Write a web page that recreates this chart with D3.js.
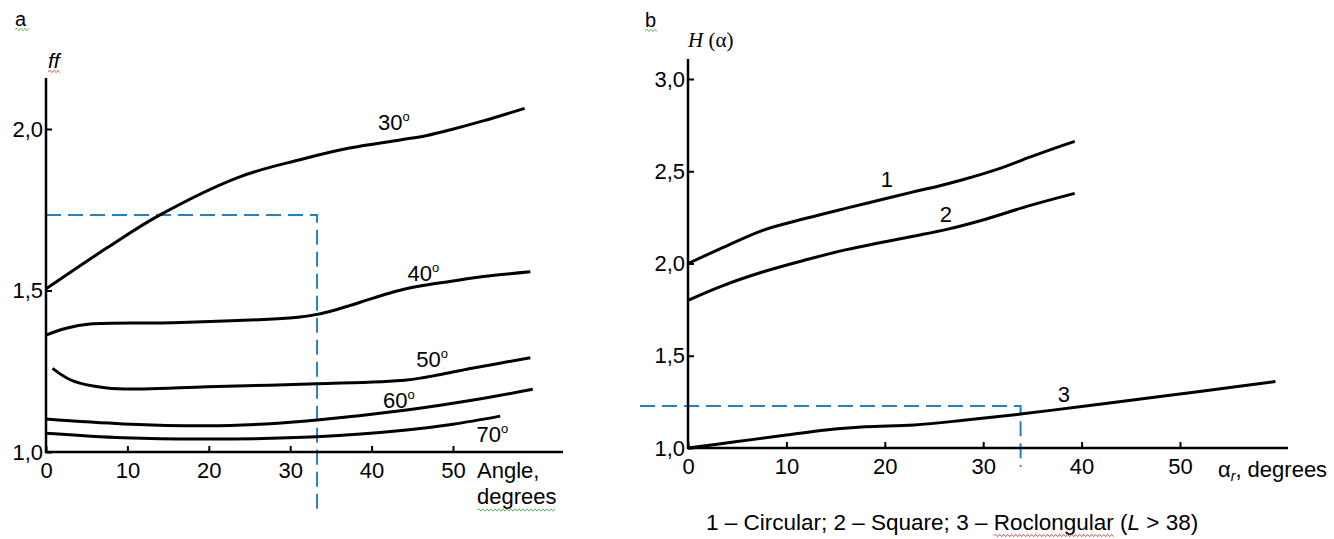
<!DOCTYPE html>
<html><head><meta charset="utf-8">
<script src="https://cdn.jsdelivr.net/npm/d3@7"></script>
<style>
body{margin:0;background:#fff}
svg{display:block}
text{font-family:"Liberation Sans",Arial,sans-serif;fill:#000}
</style>
</head><body>
<svg id="c" width="1334" height="539"></svg>
<script>
// ---------- data: panel a ----------
const ffTicksY = [1.0, 1.5, 2.0];
const ffTicksX = [0, 10, 20, 30, 40, 50];
const ffCurveNames = ["30", "40", "50", "60", "70"];
const ff30 = [[0,1.505],[7.5,1.632],[14,1.734],[23.8,1.852],[31.2,1.905],[37.3,1.941],[43.5,1.966],[46.8,1.98],[49.6,1.997],[53.7,2.025],[58.8,2.064]];
const ff40 = [[0,1.362],[2.5,1.383],[5.4,1.396],[15.6,1.40],[27.9,1.412],[31.2,1.418],[33.3,1.426],[35.3,1.438],[37.3,1.453],[39.4,1.47],[41.5,1.487],[43.5,1.501],[46.5,1.516],[49.6,1.528],[53.7,1.543],[59.5,1.558]];
const ff50 = [[0.8,1.259],[3.3,1.22],[7.5,1.198],[12,1.195],[19.8,1.202],[33.3,1.211],[44.3,1.223],[48.5,1.24],[52.5,1.26],[59.5,1.292]];
const ff60 = [[0,1.102],[9.5,1.087],[19.8,1.081],[27,1.087],[33.3,1.099],[44.3,1.13],[52.5,1.161],[59.8,1.194]];
const ff70 = [[0,1.058],[9.5,1.044],[19.8,1.04],[33.3,1.047],[44.3,1.068],[50,1.086],[55.8,1.111]];
const ffLabelAt = [[40.8,1.997],[44.4,1.529],[45.5,1.264],[41.4,1.136],[52.9,1.032]];
const ffRef = [33.3, 1.734];

// ---------- data: panel b ----------
const hTicksY = [1.0, 1.5, 2.0, 2.5, 3.0];
const hTicksX = [0, 10, 20, 30, 40, 50];
const hCurveNames = ["1", "2", "3"];
const h1 = [[0,2.0],[3.3,2.08],[7.6,2.18],[12,2.245],[16.1,2.30],[19.5,2.344],[22.9,2.388],[25.5,2.42],[28,2.455],[31.4,2.51],[34.8,2.578],[37,2.62],[39.3,2.662]];
const h2 = [[0,1.80],[3.3,1.875],[7.65,1.955],[12,2.02],[16.1,2.075],[19.5,2.112],[22.9,2.148],[26.3,2.185],[29.7,2.232],[34.8,2.315],[39.3,2.38]];
const h3 = [[0,1.0],[5,1.035],[10,1.07],[14,1.098],[18,1.115],[23,1.125],[28,1.15],[33.8,1.184],[40,1.225],[46,1.266],[52,1.306],[59.7,1.36]];
const hLabelAt = [[20.2,2.413],[26.2,2.223],[38.2,1.249]];
const hRef = [33.8, 1.228];
const legendParts = ["1 – Circular; 2 – Square; 3 – ", "Roclongular", " (", "L", " > 38)"];

// ---------- drawing ----------
const svg = d3.select("#c");
svg.append("rect").attr("width",1334).attr("height",539).attr("fill","#fff");
const fmt = d => d.toFixed(1).replace(".", ",");
const BLUE = "#2580cc";
const FS = 22;

function panel(o){
  const g = svg.append("g");
  const x = d3.scaleLinear().domain([0,50]).range([o.x0, o.x50]);
  const y = d3.scaleLinear().domain(o.yDom).range(o.yRange);
  g.append("path")
    .attr("d", `M${o.refStartX},${y(o.ref[1])}H${x(o.ref[0])}V${o.refEndY}`)
    .attr("fill","none").attr("stroke",BLUE).attr("stroke-width",2)
    .attr("stroke-dasharray","15,7");
  g.append("line").attr("x1",o.x0).attr("x2",o.x0).attr("y1",y(o.yDom[0])+1).attr("y2",o.yTop)
    .attr("stroke","#000").attr("stroke-width",2.5);
  g.append("line").attr("x1",o.x0-1).attr("x2",o.xEnd).attr("y1",y(o.yDom[0])).attr("y2",y(o.yDom[0]))
    .attr("stroke","#000").attr("stroke-width",2.5);
  const ay = g.append("g").attr("transform",`translate(${o.x0},0)`)
    .call(d3.axisLeft(y).tickValues(o.ticksY).tickFormat(fmt).tickSize(-6).tickSizeOuter(0).tickPadding(3));
  const ax = g.append("g").attr("transform",`translate(0,${y(o.yDom[0])})`)
    .call(d3.axisBottom(x).tickValues(o.ticksX).tickFormat(d3.format("d")).tickSize(-6).tickSizeOuter(0).tickPadding(10));
  [ay, ax].forEach(a => {
    a.select(".domain").remove();
    a.selectAll(".tick line").attr("stroke","#000").attr("stroke-width",2);
    a.selectAll(".tick text").attr("font-size",FS).attr("font-family",'"Liberation Sans",Arial,sans-serif').attr("fill","#000");
  });
  const line = d3.line().x(d=>x(d[0])).y(d=>y(d[1])).curve(d3.curveCatmullRom.alpha(0.5));
  o.curves.forEach(c => {
    g.append("path").attr("d", line(c)).attr("fill","none").attr("stroke","#000").attr("stroke-width",3);
  });
  return {g, x, y};
}

// wavy spell-check underline
function squiggle(x1, x2, yy, color){
  let d = `M${x1},${yy}`;
  let up = true;
  for (let xx = x1 + 2; xx <= x2; xx += 2) { d += `L${xx},${yy + (up ? -1.2 : 1.2)}`; up = !up; }
  svg.append("path").attr("d", d).attr("fill","none").attr("stroke",color).attr("stroke-width",0.9);
}
const GREEN = "#4caf50", RED = "#e04040";

// panel a
const A = panel({x0:46, x50:453, xEnd:563, yDom:[1,2], yRange:[452,129], yTop:78,
  ticksY:ffTicksY, ticksX:ffTicksX, ref:ffRef, refStartX:46, refEndY:511,
  curves:[ff30,ff40,ff50,ff60,ff70]});
ffCurveNames.forEach((n,i) => {
  const t = A.g.append("text").attr("x",A.x(ffLabelAt[i][0])).attr("y",A.y(ffLabelAt[i][1])).attr("font-size",FS);
  t.append("tspan").text(n);
  t.append("tspan").attr("font-size",13).attr("dy",-9).text("o");
});
svg.append("text").attr("x",15).attr("y",26).attr("font-size",20).text("a");
squiggle(15, 29, 29.5, GREEN);
svg.append("text").attr("x",48).attr("y",68).attr("font-size",21).attr("font-style","italic").text("ff");
squiggle(48, 61, 71.5, RED);
svg.append("text").attr("x",477).attr("y",478).attr("font-size",FS).text("Angle,");
const dg = svg.append("text").attr("x",477).attr("y",504).attr("font-size",FS).text("degrees");
squiggle(477, 477 + dg.node().getComputedTextLength(), 510, GREEN);

// panel b
const B = panel({x0:688, x50:1180, xEnd:1288, yDom:[1,3], yRange:[448,79], yTop:59,
  ticksY:hTicksY, ticksX:hTicksX, ref:hRef, refStartX:640, refEndY:467,
  curves:[h1,h2,h3]});
hCurveNames.forEach((n,i) => {
  B.g.append("text").attr("x",B.x(hLabelAt[i][0])).attr("y",B.y(hLabelAt[i][1]))
    .attr("text-anchor","middle").attr("font-size",FS).text(n);
});
svg.append("text").attr("x",645).attr("y",27).attr("font-size",20).text("b");
squiggle(645, 657, 30.5, GREEN);
const ht = svg.append("text").attr("x",688).attr("y",47).attr("font-size",21)
  .style("font-family",'"Liberation Serif","DejaVu Serif",serif');
ht.append("tspan").attr("font-style","italic").text("H");
ht.append("tspan").text(" (α)");
const xl = svg.append("text").attr("x",1218).attr("y",477).attr("font-size",FS);
xl.append("tspan").text("α");
xl.append("tspan").attr("font-size",14).attr("font-style","italic").attr("dy",4).text("r");
xl.append("tspan").attr("dy",-4).text(", degrees");
const lg = svg.append("text").attr("x",706).attr("y",530).attr("font-size",22.5);
lg.append("tspan").text(legendParts[0]);
lg.append("tspan").text(legendParts[1]);
lg.append("tspan").text(legendParts[2]);
lg.append("tspan").attr("font-style","italic").text(legendParts[3]);
lg.append("tspan").text(legendParts[4]);
const ln = lg.node();
const rStart = 706 + ln.getSubStringLength(0, legendParts[0].length);
const rLen = ln.getSubStringLength(legendParts[0].length, legendParts[1].length);
squiggle(rStart, rStart + rLen, 535.5, RED);
</script>
</body></html>
